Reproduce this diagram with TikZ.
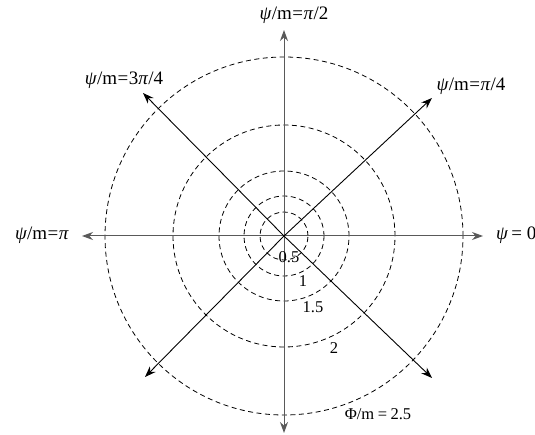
\documentclass[tikz,border=0pt]{standalone}
\usepackage{fontspec}
\setmainfont{Liberation Serif}
\usetikzlibrary{arrows.meta}
\definecolor{axisgray}{rgb}{0.35,0.35,0.35}
\tikzset{
  ring/.style={draw=black, line width=0.8pt, dash pattern=on 5pt off 3.5pt},
  axisline/.style={draw=axisgray, line width=1pt, -{Stealth[length=11pt,width=8pt]}},
  diagline/.style={draw=black, line width=0.9pt, -{Stealth[length=11pt,width=8pt]}},
  biglabel/.style={font=\fontsize{19}{21}\selectfont, inner sep=0pt},
  smalllabel/.style={font=\fontsize{16.5}{18}\selectfont, inner sep=0pt}
}
\newcommand{\psym}{\textit{ψ}}
\newcommand{\pisym}{\textit{π}}
\newcommand{\eqs}{\kern0.5pt=\kern0.5pt}
\begin{document}
\begin{tikzpicture}[x=1pt,y=1pt]
\useasboundingbox (0,0) rectangle (535,434);
\clip (0,0) rectangle (535,434);
\coordinate (C) at (284,198);
% rings
\draw[ring] (C) circle[radius=24];
\draw[ring] (C) circle[radius=40];
\draw[ring] (C) circle[radius=65];
\draw[ring] (C) circle[radius=111];
\draw[ring] (C) circle[radius=179];
% axis tips
\coordinate (T) at (284,404);
\coordinate (B) at (284,1);
\coordinate (L) at (82,198);
\coordinate (R) at (483,198);
\coordinate (NE) at (432,336);
\coordinate (NW) at (143,341);
\coordinate (SW) at (145,57);
\coordinate (SE) at (432,56);
\draw[axisline] (C) -- (T);
\draw[axisline] (C) -- (B);
\draw[axisline] (C) -- (L);
\draw[axisline] (C) -- (R);
\draw[diagline] (C) -- (NE);
\draw[diagline] (C) -- (NW);
\draw[diagline] (C) -- (SW);
\draw[diagline] (C) -- (SE);
% labels
\node[biglabel] (lt) at (294,419) {\psym/m\eqs\pisym/2};
\node[biglabel] (lnw) at (124,354) {\psym/m\eqs3\pisym/4};
\node[biglabel] (lne) at (471,348) {\psym/m\eqs\pisym/4};
\node[biglabel] (ll) at (42,199) {\psym/m\eqs\pisym};
\node[biglabel, anchor=west] (lr) at (496,199) {\psym\kern3pt=\kern5pt0};
\node[smalllabel] (r1) at (289,177) {0.5};
\node[smalllabel] (r2) at (303,153) {1};
\node[smalllabel] (r3) at (313,127) {1.5};
\node[smalllabel] (r4) at (334,86) {2};
\node[smalllabel] (r5) at (378,20) {Φ/m\kern3.5pt=\kern3.5pt2.5};
\end{tikzpicture}
\end{document}
